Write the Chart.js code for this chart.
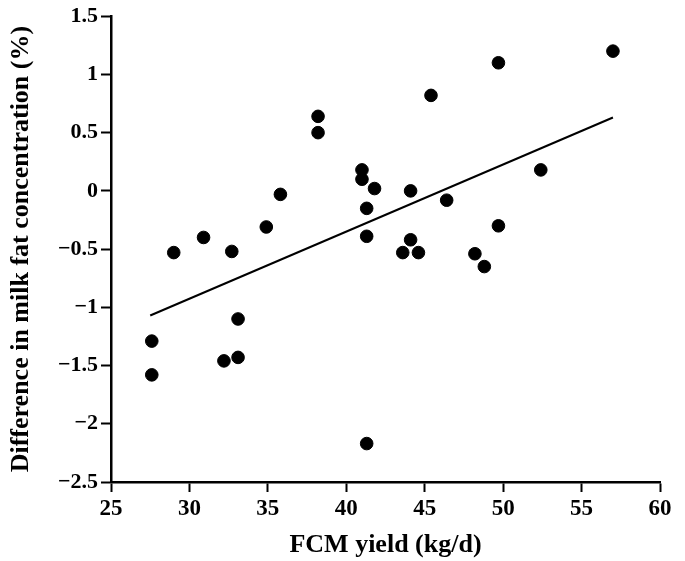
<!DOCTYPE html>
<html>
<head>
<meta charset="utf-8">
<title>FCM yield vs milk fat difference</title>
<script src="https://cdn.jsdelivr.net/npm/chart.js@4.4.1/dist/chart.umd.min.js"></script>
<style>
    html, body { margin: 0; padding: 0; background: #fff; }
    #wrap { width: 685px; height: 561px; position: relative; }
</style>
</head>
<body>
<div id="wrap"><canvas id="scatter_chart" width="685" height="561"></canvas></div>
<script>
// FCM yield (kg/d)
var fcmYield = [38.2, 38.2, 41.0, 41.0, 41.8, 35.8, 41.3, 34.9, 30.9, 41.3,
    29.0, 32.7, 27.6, 27.6, 33.1, 32.2, 33.1, 41.3,
    57.0, 49.7, 45.4, 52.4, 44.1, 46.4, 49.7, 44.1,
    43.6, 44.6, 48.2, 48.8];
// difference in milk fat concentration (%)
var fatDiff = [0.64, 0.50, 0.18, 0.10, 0.02, -0.03, -0.15, -0.31, -0.40, -0.39,
    -0.53, -0.52, -1.29, -1.58, -1.10, -1.46, -1.43, -2.17,
    1.20, 1.10, 0.82, 0.18, 0.00, -0.08, -0.30, -0.42,
    -0.53, -0.53, -0.54, -0.65];
// fitted line end points
var fitX = [27.5, 57.0];
var fitY = [-1.07, 0.63];

var xTicks = [25, 30, 35, 40, 45, 50, 55, 60];
var yTicks = [1.5, 1, 0.5, 0, -0.5, -1, -1.5, -2, -2.5];

var fontFamily = "'Liberation Serif', 'Times New Roman', serif";

function toPoints(xs, ys) {
    var pts = [];
    for (var i = 0; i < xs.length; i++) {
        pts.push({ x: xs[i], y: ys[i] });
    }
    return pts;
}

function minusSign(v) {
    return String(v).replace('-', '\u2212');
}

function getChartJs() {
    var config = {
        type: 'scatter',
        data: {
            datasets: [{
                label: 'Cows',
                data: toPoints(fcmYield, fatDiff),
                backgroundColor: '#000',
                borderColor: '#000',
                pointRadius: 6.3,
                pointHoverRadius: 6.3
            }, {
                label: 'Fit',
                type: 'line',
                data: toPoints(fitX, fitY),
                borderColor: '#000',
                borderWidth: 2,
                pointRadius: 0,
                fill: false
            }]
        },
        options: {
            responsive: false,
            animation: false,
            layout: { padding: { top: 16, right: 25, left: 0, bottom: 0 } },
            plugins: {
                legend: { display: false },
                tooltip: { enabled: false }
            },
            scales: {
                x: {
                    type: 'linear',
                    min: 25,
                    max: 60,
                    afterBuildTicks: function (axis) {
                        axis.ticks = xTicks.map(function (v) { return { value: v }; });
                    },
                    afterFit: function (axis) { axis.height = 79; },
                    grid: {
                        display: true,
                        drawOnChartArea: false,
                        drawTicks: true,
                        tickLength: 10,
                        tickWidth: 2,
                        color: '#000'
                    },
                    border: { display: true, color: '#000', width: 2.5 },
                    ticks: {
                        color: '#000',
                        padding: 3,
                        maxRotation: 0,
                        font: { family: fontFamily, size: 23, weight: 'bold' },
                        callback: function (v) { return minusSign(v); }
                    },
                    title: {
                        display: true,
                        text: 'FCM yield (kg/d)',
                        color: '#000',
                        padding: { top: 4, bottom: 0 },
                        font: { family: fontFamily, size: 26, weight: 'bold' }
                    }
                },
                y: {
                    type: 'linear',
                    min: -2.5,
                    max: 1.5,
                    afterBuildTicks: function (axis) {
                        axis.ticks = yTicks.map(function (v) { return { value: v }; });
                    },
                    afterFit: function (axis) { axis.width = 111; },
                    grid: {
                        display: true,
                        drawOnChartArea: false,
                        drawTicks: true,
                        tickLength: 10,
                        tickWidth: 2,
                        color: '#000'
                    },
                    border: { display: true, color: '#000', width: 2.5 },
                    ticks: {
                        color: '#000',
                        padding: 3,
                        font: { family: fontFamily, size: 22, weight: 'bold' },
                        callback: function (v) { return minusSign(v); }
                    },
                    title: {
                        display: true,
                        text: 'Difference in milk fat concentration (%)',
                        color: '#000',
                        padding: { top: 6, bottom: 0 },
                        font: { family: fontFamily, size: 26, weight: 'bold' }
                    }
                }
            }
        }
    };
    return config;
}

new Chart(document.getElementById('scatter_chart').getContext('2d'), getChartJs());
</script>
</body>
</html>
